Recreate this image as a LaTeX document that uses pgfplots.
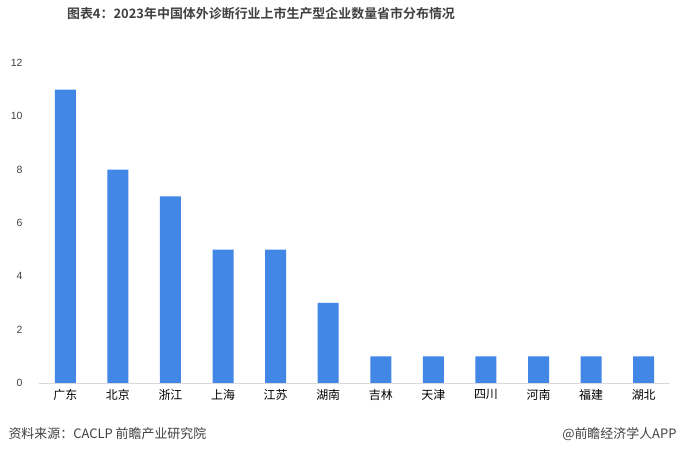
\documentclass[border=0pt]{standalone}
\usepackage{pgfplots}
\pgfplotsset{compat=1.18}
\usepackage{fontspec}
\setmainfont{Liberation Sans}
\newfontfamily\cjk{Noto Sans CJK SC}
\newfontfamily\cjkb{Noto Sans CJK SC}[BoldFont={* Bold}]
\definecolor{barblue}{RGB}{66,134,230}
\definecolor{axgray}{RGB}{217,217,217}
\definecolor{txt}{RGB}{64,64,64}
\begin{document}
\begin{tikzpicture}[x=1bp,y=1bp]
\useasboundingbox (0,0) rectangle (681,454);
\begin{axis}[
  at={(39bp,71bp)}, anchor=south west,
  scale only axis, width=631bp, height=320bp,
  xmin=-0.5, xmax=11.5, ymin=0, ymax=12,
  axis line style={draw=none},
  axis x line*=bottom, axis y line*=left,
  ytick={0,2,4,6,8,10,12},
  xtick={0,...,11},
  xticklabels={广东,北京,浙江,上海,江苏,湖南,吉林,天津,四川,河南,福建,湖北},
  xticklabel style={font=\cjk\fontsize{12}{14}\selectfont, text=black, yshift=-3bp},
  yticklabel style={font=\fontsize{10.5}{12}\selectfont, text=txt, xshift=-13bp},
  /pgf/number format/assume math mode=true,
  major tick length=0pt,
  ybar, bar width=21bp,
  clip=false,
]
\addplot[fill=barblue, draw=none] coordinates {
(0,11) (1,8) (2,7) (3,5) (4,5) (5,3) (6,1) (7,1) (8,1) (9,1) (10,1) (11,1)};
\draw[axgray, line width=0.8bp] (axis cs:-0.5,0) -- (axis cs:11.5,0);
\end{axis}
\node[font=\cjkb\bfseries\fontsize{13}{15}\selectfont, text=txt] at (261,440) {图表4：2023年中国体外诊断行业上市生产型企业数量省市分布情况};
\node[anchor=west, font=\cjk\fontsize{13}{15}\selectfont, text=txt] at (5,20) {资料来源：CACLP 前瞻产业研究院};
\node[anchor=east, font=\cjk\fontsize{13}{15}\selectfont, text=txt] at (680,20) {@前瞻经济学人APP};
\end{tikzpicture}
\end{document}
